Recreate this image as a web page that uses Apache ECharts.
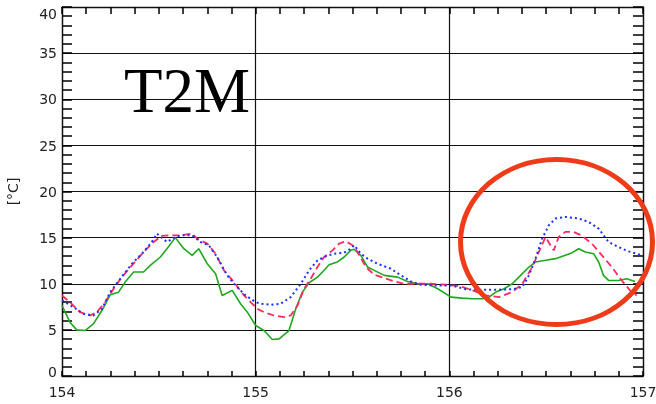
<!DOCTYPE html>
<html>
<head>
<meta charset="utf-8">
<script src="https://cdn.jsdelivr.net/npm/echarts@6/dist/echarts.min.js"></script>
<style>html,body{margin:0;padding:0;background:#fff}#c{width:656px;height:404px}</style>
</head>
<body>
<div id="c"></div>
<script>
// x axis: day of year
const xTicks = [154, 155, 156, 157];
const yTicks = [0, 5, 10, 15, 20, 25, 30, 35, 40];

// blue dotted series
const blueT = [154.000,154.059,154.111,154.162,154.206,154.249,154.301,154.361,154.421,154.464,154.490,154.542,154.585,154.620,154.672,154.715,154.758,154.801,154.853,154.896,154.948,155.000,155.026,155.078,155.129,155.181,155.233,155.276,155.319,155.362,155.405,155.457,155.491,155.509,155.543,155.578,155.629,155.698,155.750,155.802,155.853,155.922,156.009,156.086,156.154,156.240,156.325,156.377,156.411,156.445,156.479,156.514,156.548,156.599,156.668,156.719,156.771,156.822,156.873,156.925,156.985];
const blueV = [8.19,7.46,6.74,6.56,7.28,9.09,10.54,12.17,13.44,14.53,15.43,14.53,15.07,15.25,15.25,14.53,14.17,12.90,10.91,9.82,8.73,8.01,7.83,7.72,7.83,8.55,10.00,11.45,12.54,12.97,13.26,13.37,13.80,14.17,13.26,12.72,12.17,11.63,10.91,10.25,9.89,9.82,9.82,9.40,9.35,9.35,9.40,9.64,10.91,12.72,14.89,16.34,17.07,17.25,17.07,16.70,15.98,14.53,13.99,13.51,13.15];

// red dashed series
const redT = [154.000,154.041,154.093,154.145,154.180,154.223,154.266,154.309,154.361,154.421,154.473,154.516,154.560,154.611,154.672,154.698,154.750,154.793,154.836,154.888,154.940,154.983,155.009,155.043,155.095,155.147,155.181,155.216,155.250,155.284,155.319,155.353,155.397,155.431,155.466,155.500,155.526,155.569,155.612,155.664,155.716,155.767,155.836,155.905,155.983,156.051,156.120,156.188,156.257,156.325,156.377,156.428,156.462,156.497,156.522,156.539,156.565,156.599,156.640,156.682,156.736,156.788,156.839,156.890,156.933,156.967];
const redV = [8.73,8.01,6.92,6.56,6.92,8.01,9.46,10.72,11.99,13.44,14.53,15.18,15.25,15.25,15.43,14.89,14.35,13.26,11.45,10.18,8.73,7.83,7.28,6.92,6.56,6.38,6.56,7.64,9.46,10.54,11.81,12.90,13.62,14.35,14.60,14.17,13.44,11.81,10.98,10.62,10.25,10.00,10.00,10.00,9.89,9.75,9.28,8.73,8.55,9.10,10.00,11.81,13.44,15.07,14.17,13.62,15.07,15.62,15.62,15.25,14.35,13.08,11.81,10.36,9.28,8.73];

// green solid series
const greenT = [154.000,154.041,154.076,154.119,154.162,154.206,154.249,154.292,154.326,154.370,154.421,154.456,154.508,154.542,154.585,154.629,154.672,154.706,154.750,154.793,154.827,154.879,154.922,154.957,155.000,155.043,155.086,155.121,155.172,155.207,155.241,155.276,155.319,155.345,155.379,155.422,155.457,155.491,155.509,155.543,155.578,155.612,155.664,155.733,155.784,155.836,155.888,155.940,156.009,156.068,156.120,156.171,156.205,156.240,156.283,156.325,156.368,156.411,156.445,156.497,156.548,156.599,156.634,156.668,156.702,156.745,156.771,156.796,156.822,156.873,156.916,156.959];
const greenV = [7.64,5.83,5.00,4.93,5.65,7.10,8.80,9.09,10.18,11.27,11.27,11.99,12.90,13.80,15.00,13.80,13.08,13.80,12.17,11.09,8.73,9.28,7.83,6.92,5.47,4.93,3.95,4.02,4.93,7.28,9.09,10.11,10.72,11.27,12.06,12.36,12.90,13.62,13.73,13.08,11.81,11.45,10.91,10.72,10.25,10.00,10.00,9.46,8.55,8.44,8.37,8.37,8.55,9.10,9.46,10.00,10.91,11.81,12.36,12.54,12.72,13.08,13.37,13.80,13.44,13.26,12.36,10.91,10.36,10.36,10.54,10.25];

const pairs = (t, v) => t.map((x, i) => [x, v[i]]);
const AX = '#111';
const TK = '#000';
const labelFont = {color: '#222', fontFamily: 'DejaVu Sans', fontSize: 14};
const xMin = xTicks[0], xMax = xTicks[xTicks.length - 1];
const yMin = yTicks[0], yMax = yTicks[yTicks.length - 1];

// axes used only to draw the fine tick marks
function tickOnlyX(position, interval, len) {
  return {
    type: 'value', position: position, min: xMin, max: xMax, interval: interval,
    axisLine: {show: false, onZero: false},
    axisTick: {show: true, inside: true, length: len, lineStyle: {color: TK, width: 1.5}},
    splitLine: {show: false}, axisLabel: {show: false}
  };
}
function tickOnlyY(position, interval, len) {
  return {
    type: 'value', position: position, min: yMin, max: yMax, interval: interval,
    axisLine: {show: false, onZero: false},
    axisTick: {show: true, inside: true, length: len, lineStyle: {color: TK, width: 1.5}},
    splitLine: {show: false}, axisLabel: {show: false}
  };
}

const chart = echarts.init(document.getElementById('c'), null, {renderer: 'canvas'});
chart.setOption({
  animation: false,
  backgroundColor: '#fff',
  grid: {left: 62, right: 13, top: 7, bottom: 28, containLabel: false, outerBoundsMode: 'none'},
  xAxis: [
    {
      type: 'value', position: 'bottom', min: xMin, max: xMax, interval: 1,
      axisLine: {show: true, onZero: false, lineStyle: {color: AX, width: 1.3}},
      axisTick: {show: true, inside: true, length: 5, lineStyle: {color: TK, width: 1.5}},
      splitLine: {show: true, lineStyle: {color: AX, width: 1.2}},
      axisLabel: Object.assign({margin: 10}, labelFont)
    },
    {
      type: 'value', position: 'top', min: xMin, max: xMax, interval: 1,
      axisLine: {show: true, onZero: false, lineStyle: {color: AX, width: 1.3}},
      axisTick: {show: true, inside: true, length: 7, lineStyle: {color: TK, width: 1.5}},
      splitLine: {show: false},
      axisLabel: {show: false}
    },
    tickOnlyX('bottom', 0.125, 5),
    tickOnlyX('top', 0.125, 7)
  ],
  yAxis: [
    {
      type: 'value', position: 'left', min: yMin, max: yMax, interval: 5,
      name: '[°C]', nameLocation: 'middle', nameGap: 41,
      nameTextStyle: {color: '#222', fontFamily: 'DejaVu Sans', fontSize: 14},
      axisLine: {show: true, onZero: false, lineStyle: {color: AX, width: 1.3}},
      axisTick: {show: true, inside: true, length: 10, lineStyle: {color: TK, width: 1.5}},
      splitLine: {show: true, lineStyle: {color: AX, width: 1.2}},
      axisLabel: Object.assign({
        margin: 5,
        formatter: v => v === 40 ? '{t|' + v + '}' : (v === 0 ? '{b|' + v + '}' : '{m|' + v + '}'),
        rich: {
          t: Object.assign({padding: [17, 0, 0, 0]}, labelFont),
          b: Object.assign({padding: [0, 0, 6, 0]}, labelFont),
          m: Object.assign({padding: [3, 0, 0, 0]}, labelFont)
        }
      }, labelFont)
    },
    {
      type: 'value', position: 'right', min: yMin, max: yMax, interval: 5,
      axisLine: {show: true, onZero: false, lineStyle: {color: AX, width: 1.3}},
      axisTick: {show: true, inside: true, length: 10, lineStyle: {color: TK, width: 1.5}},
      splitLine: {show: false},
      axisLabel: {show: false}
    },
    tickOnlyY('left', 1, 10),
    tickOnlyY('right', 1, 10)
  ],
  series: [
    {
      name: 'green', type: 'line', xAxisIndex: 0, yAxisIndex: 0, showSymbol: false, symbol: 'none',
      data: pairs(greenT, greenV),
      lineStyle: {color: '#1fa81f', width: 1.6, type: 'solid'}, z: 3
    },
    {
      name: 'red', type: 'line', xAxisIndex: 0, yAxisIndex: 0, showSymbol: false, symbol: 'none',
      data: pairs(redT, redV),
      lineStyle: {color: '#ff2a63', width: 1.8, type: [7, 4]}, z: 4
    },
    {
      name: 'blue', type: 'line', xAxisIndex: 0, yAxisIndex: 0, showSymbol: false, symbol: 'none',
      data: pairs(blueT, blueV),
      lineStyle: {color: '#1f2fff', width: 2, type: [2, 3]}, z: 5
    }
  ],
  graphic: [
    {
      type: 'text', left: 124, top: 64, z: 10,
      style: {text: 'T2M', fill: '#000', font: '63px "Liberation Serif", "Times New Roman", serif'}
    },
    {
      type: 'ellipse', z: 20,
      shape: {cx: 556.5, cy: 242, rx: 96, ry: 82.5},
      style: {fill: 'none', stroke: '#ee3b1a', lineWidth: 5}
    }
  ]
});
</script>
</body>
</html>
